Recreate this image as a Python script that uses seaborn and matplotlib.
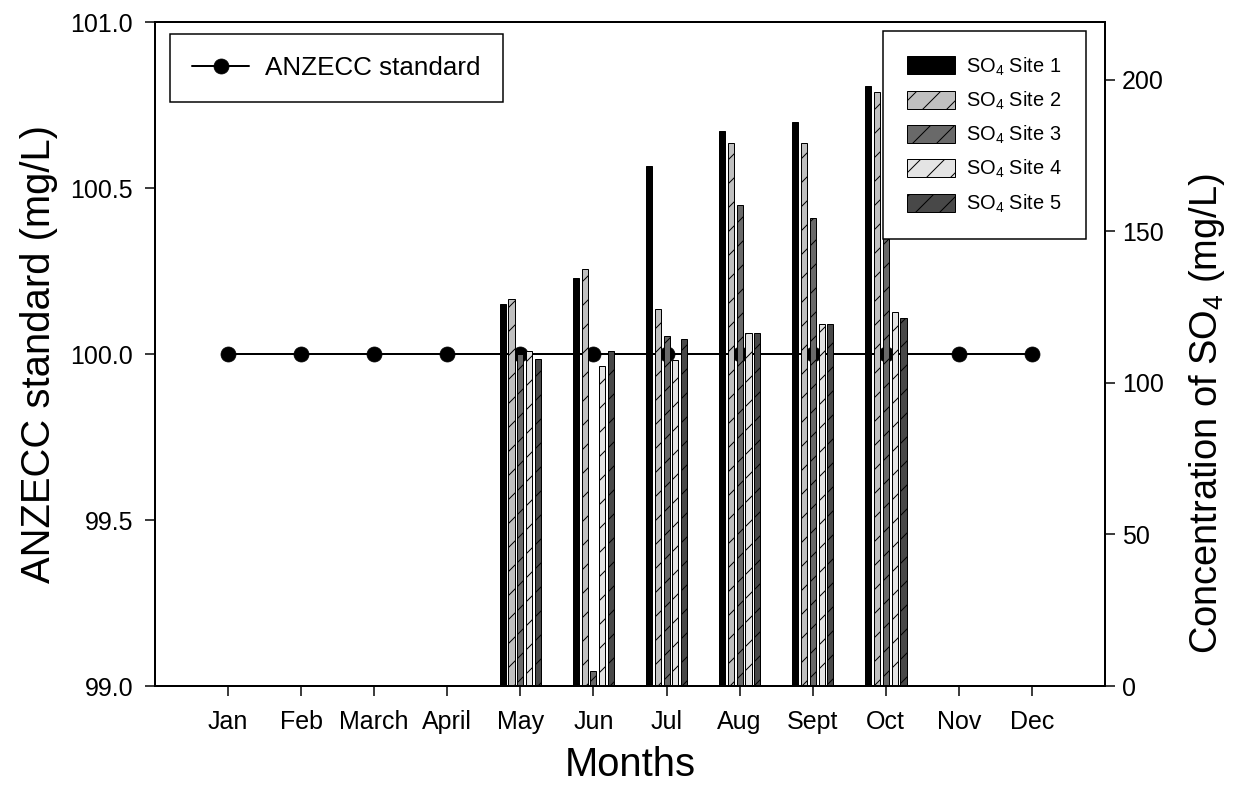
import numpy as np
import pandas as pd
import seaborn as sns
import matplotlib.pyplot as plt
from matplotlib.patches import Patch

# Months on the x axis
months = ["Jan", "Feb", "March", "April", "May", "Jun",
          "Jul", "Aug", "Sept", "Oct", "Nov", "Dec"]

# ANZECC standard (left axis, mg/L)
anzecc = [100.0, 100.0, 100.0, 100.0, 100.0, 100.0,
          100.0, 100.0, 100.0, 100.0, 100.0, 100.0]

# SO4 concentrations per site (right axis, mg/L), only May..Oct sampled
nan = np.nan
site1 = [nan, nan, nan, nan, 126.0, 134.5, 171.5, 183.0, 186.0, 198.0, nan, nan]
site2 = [nan, nan, nan, nan, 127.5, 137.5, 124.5, 179.0, 179.0, 196.0, nan, nan]
site3 = [nan, nan, nan, nan, 109.5, 5.0, 115.5, 158.5, 154.5, 187.0, nan, nan]
site4 = [nan, nan, nan, nan, 110.5, 105.5, 107.5, 116.5, 119.5, 123.5, nan, nan]
site5 = [nan, nan, nan, nan, 108.0, 110.5, 114.5, 116.5, 119.5, 121.5, nan, nan]

site_names = ["SO$_4$ Site 1", "SO$_4$ Site 2", "SO$_4$ Site 3",
              "SO$_4$ Site 4", "SO$_4$ Site 5"]
site_colors = ["#000000", "#c0c0c0", "#696969", "#e4e4e4", "#484848"]
site_hatches = ["", "/", "/", "/", "/"]

# long table for seaborn
rows = []
for name, vals in zip(site_names, [site1, site2, site3, site4, site5]):
    for m, v in zip(months, vals):
        if not np.isnan(v):
            rows.append({"month": m, "site": name, "value": v})
df = pd.DataFrame(rows)

sns.set_style("ticks")
plt.rcParams["font.family"] = ["Liberation Sans", "DejaVu Sans"]
plt.rcParams["mathtext.default"] = "regular"
plt.rcParams["hatch.linewidth"] = 1.0
for k in ["text.color", "axes.labelcolor", "xtick.color", "ytick.color",
          "axes.edgecolor"]:
    plt.rcParams[k] = "black"

# dpi 72 -> 1 pt == 1 px
fig = plt.figure(figsize=(1234 / 72, 796 / 72), dpi=72)
ax = fig.add_axes([155 / 1234, 110 / 796, 950 / 1234, 664 / 796])
ax2 = ax.twinx()

# bars on the right axis
sns.barplot(data=df, x="month", y="value", hue="site",
            order=months, hue_order=site_names,
            palette=dict(zip(site_names, site_colors)),
            width=0.607, gap=0.32, dodge=True, errorbar=None,
            edgecolor="black", linewidth=1, legend=False, ax=ax2)

for cont in ax2.containers:
    lab = cont.get_label()
    i = site_names.index(lab) if lab in site_names else ax2.containers.index(cont)
    for bar in cont:
        bar.set_hatch(site_hatches[i])
        bar.set_edgecolor("black")

# standard line on the left axis
sns.lineplot(x=np.arange(len(months)), y=anzecc, ax=ax, color="black",
             linewidth=2, marker="o", markersize=15, markeredgecolor="black",
             legend=False)

ax.set_xlim(-1, 12)
ax.set_xticks(np.arange(len(months)))
ax.set_xticklabels(months)
ax.set_ylim(99.0, 101.0)
ax.set_yticks([99.0, 99.5, 100.0, 100.5, 101.0])
ax.set_yticklabels(["99.0", "99.5", "100.0", "100.5", "101.0"])
ax2.set_ylim(0, 219)
ax2.set_yticks([0, 50, 100, 150, 200])
ax2.set_xlabel("")

ax.set_xlabel("Months", fontsize=40, labelpad=12)
ax.set_ylabel("ANZECC standard (mg/L)", fontsize=40, labelpad=12)
ax2.set_ylabel("Concentration of SO$_4$ (mg/L)", fontsize=38)
# label sits a bit lower than the axis centre in the original
ax2.yaxis.set_label_coords(1.086, 0.41)

ax.tick_params(axis="both", direction="out", length=10, width=1.5,
               labelsize=25, pad=12, right=False, top=False)
ax.tick_params(axis="x", pad=14)
ax2.tick_params(axis="y", direction="out", length=10, width=1.5,
                labelsize=25, pad=7, right=True, left=False)
for a in (ax, ax2):
    for s in a.spines.values():
        s.set_visible(True)
        s.set_linewidth(2)

# legends
leg1 = ax.legend(handles=ax.get_lines()[:1], labels=["ANZECC standard"],
                 loc="upper left", bbox_to_anchor=(0.0158, 0.982),
                 borderaxespad=0, fontsize=26, handlelength=2.2,
                 handletextpad=0.6, borderpad=0.85, fancybox=False,
                 edgecolor="black", framealpha=1)
leg1.get_frame().set_linewidth(1.5)

handles = [Patch(facecolor=c, edgecolor="black", hatch=h, linewidth=1)
           for c, h in zip(site_colors, site_hatches)]
leg2 = ax2.legend(handles=handles, labels=site_names,
                  loc="upper right", bbox_to_anchor=(0.98, 0.986),
                  borderaxespad=0, fontsize=20, handlelength=2.4,
                  handleheight=1.0, labelspacing=0.6, handletextpad=0.55,
                  borderpad=1.2, fancybox=False, edgecolor="black",
                  framealpha=1)
leg2.get_frame().set_linewidth(1.5)

fig.savefig("out.png", dpi=72, facecolor="white")
